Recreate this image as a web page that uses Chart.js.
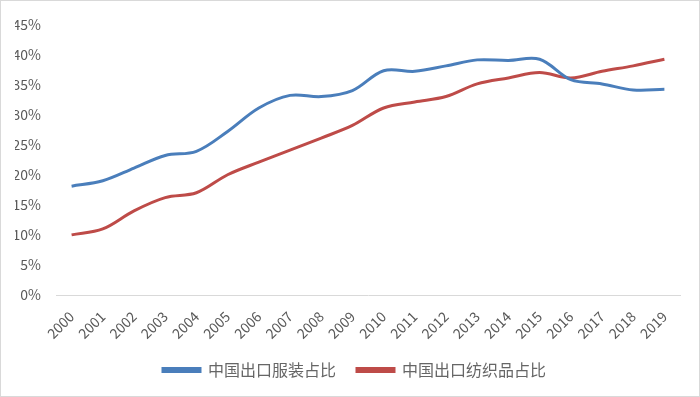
<!DOCTYPE html>
<html><head><meta charset="utf-8">
<script src="https://cdn.jsdelivr.net/npm/chart.js@4/dist/chart.umd.min.js"></script>
<style>
html,body{margin:0;padding:0;background:#fff;}
#wrap{position:relative;width:700px;height:397px;box-sizing:border-box;border:1px solid #d9d9d9;}
canvas{display:block;}
</style></head><body>
<div id="wrap"><canvas id="c" width="698" height="395"></canvas></div>
<script>
const years = ['2000','2001','2002','2003','2004','2005','2006','2007','2008','2009','2010','2011','2012','2013','2014','2015','2016','2017','2018','2019'];
const apparelShare = [18.1,19.0,21.1,23.2,23.9,27.2,31.1,33.2,33.0,34.0,37.3,37.2,38.1,39.1,39.0,39.2,35.8,35.1,34.1,34.2];
const textileShare = [10.0,11.0,14.0,16.2,17.0,20.0,22.1,24.1,26.1,28.2,31.1,32.1,33.0,35.1,36.1,37.0,36.1,37.2,38.1,39.2];
const seriesNames = ['中国出口服装占比','中国出口纺织品占比'];
const yTicks = [0,5,10,15,20,25,30,35,40,45];

const font = "'Noto Sans CJK SC', 'Noto Sans', sans-serif";
new Chart(document.getElementById('c'), {
  type: 'line',
  data: {
    labels: years,
    datasets: [
      {label: seriesNames[0], data: apparelShare, borderColor: '#4A7EBB', backgroundColor: '#4A7EBB', borderWidth: 3, pointRadius: 0, tension: 0.35, fill: false},
      {label: seriesNames[1], data: textileShare, borderColor: '#BE4B48', backgroundColor: '#BE4B48', borderWidth: 3, pointRadius: 0, tension: 0.35, fill: false}
    ]
  },
  options: {
    responsive: false,
    animation: false,
    devicePixelRatio: 1,
    layout: {padding: {left: 14, right: 5, top: 6, bottom: 8}},
    plugins: {
      legend: {
        position: 'bottom',
        labels: {boxWidth: 37, boxHeight: 3, padding: 21, color: '#666666', font: {family: font, size: 16}}
      },
      tooltip: {enabled: false}
    },
    scales: {
      x: {
        offset: true,
        grid: {display: false, drawTicks: false},
        border: {display: true, color: '#d9d9d9', width: 1},
        ticks: {maxRotation: 45, minRotation: 45, padding: 13, color: '#595959', font: {family: font, size: 14}, autoSkip: false},
        afterFit: s => { s.height = 46; }
      },
      y: {
        min: 0, max: 45,
        afterBuildTicks: s => { s.ticks = yTicks.map(v => ({value: v})); },
        grid: {display: false, drawTicks: false},
        border: {display: false},
        ticks: {padding: 15, color: '#595959', font: {family: font, size: 14}, callback: v => v + '%'},
        afterFit: s => { s.width = 41; }
      },
      yRight: {
        position: 'right',
        display: true,
        min: 0, max: 45,
        grid: {display: false, drawTicks: false},
        border: {display: false},
        ticks: {display: false},
        afterFit: s => { s.width = 14; }
      }
    }
  }
});
</script>
</body></html>
